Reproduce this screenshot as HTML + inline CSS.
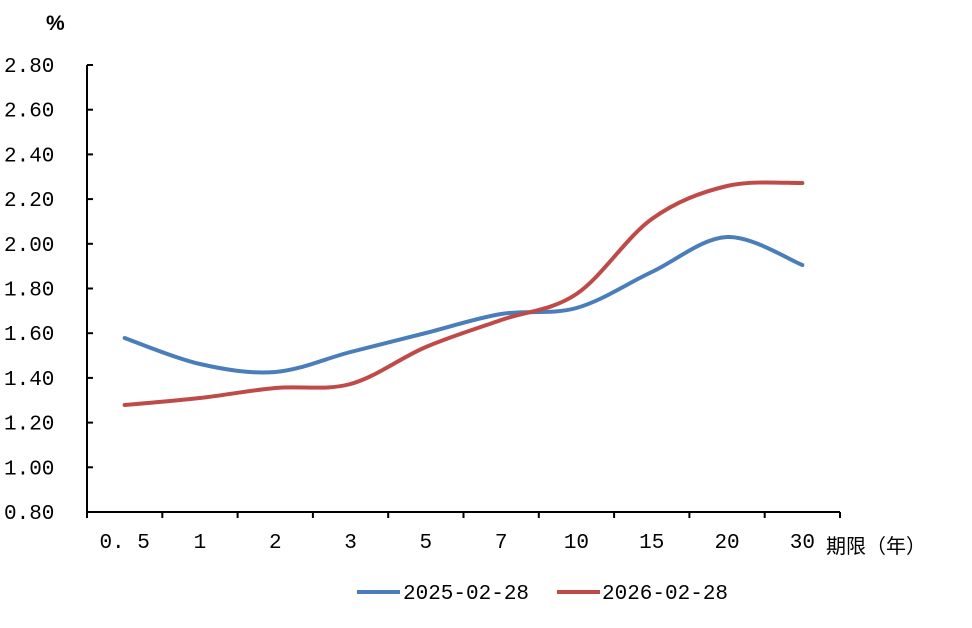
<!DOCTYPE html>
<html><head><meta charset="utf-8"><style>
html,body{margin:0;padding:0;background:#fff;}
svg{display:block;}
text{font-family:"Liberation Mono","Noto Serif CJK SC",monospace;font-size:21px;fill:#000;}
</style></head><body>
<svg id="s" width="972" height="628" viewBox="0 0 972 628">
<text x="46" y="30" style="font-family:'Liberation Sans',sans-serif;font-size:21px;font-weight:bold;">%</text>
<g id="ax" stroke="#000" stroke-width="2" fill="none"></g>
<g id="lbl"></g>
<path id="blue" fill="none" stroke="#4a7ebb" stroke-width="4" stroke-linecap="round"/>
<path id="red" fill="none" stroke="#be4b48" stroke-width="4" stroke-linecap="round"/>
<text x="826" y="553" style="font-family:'Noto Sans CJK SC',sans-serif;font-size:20px;">期限（年）</text>
<line x1="357" y1="592" x2="400" y2="592" stroke="#4a7ebb" stroke-width="4"/>
<text x="403" y="599">2025-02-28</text>
<line x1="557" y1="592" x2="600" y2="592" stroke="#be4b48" stroke-width="4"/>
<text x="602" y="599">2026-02-28</text>
</svg>
<script>
var NS="http://www.w3.org/2000/svg",ax=document.getElementById('ax'),lb=document.getElementById('lbl');
function el(p,t,a,txt){var e=document.createElementNS(NS,t);for(var k in a)e.setAttribute(k,a[k]);if(txt)e.textContent=txt;p.appendChild(e);}
el(ax,'line',{x1:87,y1:65,x2:87,y2:512});
el(ax,'line',{x1:87,y1:512,x2:840,y2:512});
var yl=['2.80','2.60','2.40','2.20','2.00','1.80','1.60','1.40','1.20','1.00','0.80'];
for(var i=0;i<11;i++){var y=65+i*44.7;el(ax,'line',{x1:87,y1:y,x2:93,y2:y});el(lb,'text',{x:4,y:y+7},yl[i]);}
var xl=['0.5','1','2','3','5','7','10','15','20','30'],w=75.3;
for(var i=0;i<=10;i++){var x=87+i*w;el(ax,'line',{x1:x,y1:512,x2:x,y2:518});}
for(var i=0;i<10;i++){var cx=87+w*(i+0.5);el(lb,'text',{x:cx,y:548,'text-anchor':'middle'},xl[i]==='0.5'?'0. 5':xl[i]);}
function path(ys){var p=ys.map(function(y,i){return [87+w*(i+0.5),y];});
var d='M'+p[0][0]+','+p[0][1];
for(var i=0;i<p.length-1;i++){var a=p[i-1]||p[i],b=p[i],c=p[i+1],e=p[i+2]||c;
d+=' C'+(b[0]+(c[0]-a[0])/6)+','+(b[1]+(c[1]-a[1])/6)+' '+(c[0]-(e[0]-b[0])/6)+','+(c[1]-(e[1]-b[1])/6)+' '+c[0]+','+c[1];}
return d;}
document.getElementById('blue').setAttribute('d',path([338,364,372,352,333,314,308,272,237,265]));
document.getElementById('red').setAttribute('d',path([405,398,388,384,347,320,294,219,186,183]));
</script>
</body></html>
